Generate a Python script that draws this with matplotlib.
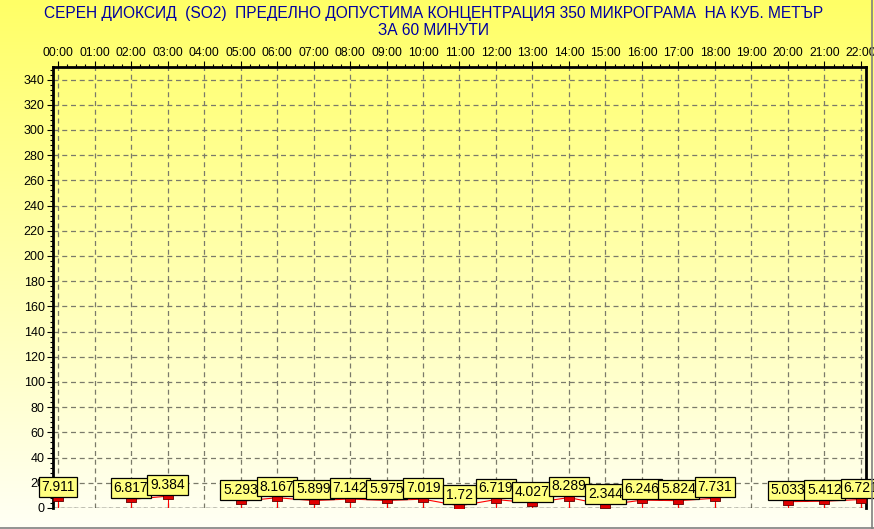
import numpy as np
import matplotlib
matplotlib.use('Agg')
import matplotlib.pyplot as plt
from matplotlib.lines import Line2D
from matplotlib.ticker import MultipleLocator

# hourly SO2 values, None = no measurement
hours = ['00:00', '01:00', '02:00', '03:00', '04:00', '05:00', '06:00', '07:00',
         '08:00', '09:00', '10:00', '11:00', '12:00', '13:00', '14:00', '15:00',
         '16:00', '17:00', '18:00', '19:00', '20:00', '21:00', '22:00']
values = [7.911, None, 6.817, 9.384, None, 5.293, 8.167, 5.899,
          7.142, 5.975, 7.019, 1.72, 6.719, 4.027, 8.289, 2.344,
          6.246, 5.824, 7.731, None, 5.033, 5.412, 6.721]
labels = ['7.911', '', '6.817', '9.384', '', '5.293', '8.167', '5.899',
          '7.142', '5.975', '7.019', '1.72', '6.719', '4.027', '8.289', '2.344',
          '6.246', '5.824', '7.731', '', '5.033', '5.412', '6.721']
y_ticks = list(range(0, 341, 20))

title = ('СЕРЕН ДИОКСИД  (SO2)  ПРЕДЕЛНО ДОПУСТИМА КОНЦЕНТРАЦИЯ 350 МИКРОГРАМА  НА КУБ. МЕТЪР\n'
         'ЗА 60 МИНУТИ')

plt.rcParams['font.family'] = ['Liberation Sans', 'DejaVu Sans']

fig = plt.figure(figsize=(8.74, 5.29), dpi=100)

# background gradient over the whole figure
bg = fig.add_axes([0, 0, 1, 1], zorder=-10)
grad = np.linspace(0, 1, 256).reshape(-1, 1)
top = np.array([1.0, 1.0, 0.40])
bottom = np.array([1.0, 1.0, 0.96])
img = top[None, None, :] * (1 - grad[:, :, None]) + bottom[None, None, :] * grad[:, :, None]
bg.imshow(img, aspect='auto', extent=[0, 1, 0, 1])
bg.set_axis_off()

ax = fig.add_axes([53 / 874, 1 - 508 / 529, (866 - 53) / 874, (508 - 67) / 529])
ax.patch.set_alpha(0)

x = np.arange(len(hours))
y = np.array([np.nan if v is None else v for v in values])

ax.plot(x, y, color='#ff0000', lw=0.8, zorder=3)
ok = ~np.isnan(y)
ax.vlines(x[ok], 0, y[ok], color='#ff0000', lw=0.8, zorder=3)
rect = [(-5, -3), (5, -3), (5, 3), (-5, 3), (-5, -3)]
ax.plot(x[ok], y[ok], ls='none', marker=rect, markersize=7.2,
        mfc='#e00000', mec='#600000', mew=0.6, zorder=4)

for xi, yi, lab in zip(x, y, labels):
    if np.isnan(yi):
        continue
    ax.annotate(lab, (xi, yi), xytext=(0, 3), textcoords='offset points',
                ha='center', va='bottom', fontsize=10, zorder=5,
                bbox=dict(boxstyle='square,pad=0.2', fc='#ffff80', ec='black', lw=0.9))

ax.set_xlim(-0.137, 22.137)
ax.set_ylim(0, 350)
ax.set_xticks(x)
ax.set_xticklabels(hours)
ax.set_yticks(y_ticks)
ax.xaxis.tick_top()
ax.xaxis.set_minor_locator(MultipleLocator(0.25))
ax.yaxis.set_minor_locator(MultipleLocator(4))
ax.tick_params(axis='x', which='major', length=4, width=0.8, labelsize=8.7, pad=2)
ax.tick_params(axis='x', which='minor', length=2, width=0.8)
ax.tick_params(axis='y', which='major', length=4, width=0.8, labelsize=9, pad=2)
ax.tick_params(axis='y', which='minor', length=2, width=0.8)

ax.grid(True, which='major', ls=(0, (4, 3)), color='#7a7a6a', lw=0.9)
ax.axhline(0, color='black', ls=(0, (3, 2)), lw=1, zorder=2)
for side in ['left', 'top', 'right']:
    ax.spines[side].set_linewidth(2)
ax.spines['bottom'].set_visible(False)

fig.text(0.496, 1 - 6 / 529, title, ha='center', va='top', color='#0000a0',
         fontsize=11.2, linespacing=1.15)

# window frame lines
fig.add_artist(Line2D([0, 1], [1.5 / 529, 1.5 / 529], color='#808080', lw=1.2))
fig.add_artist(Line2D([872 / 874, 872 / 874], [0, 1], color='#808080', lw=1.2))

fig.savefig('out.png', dpi=100)
